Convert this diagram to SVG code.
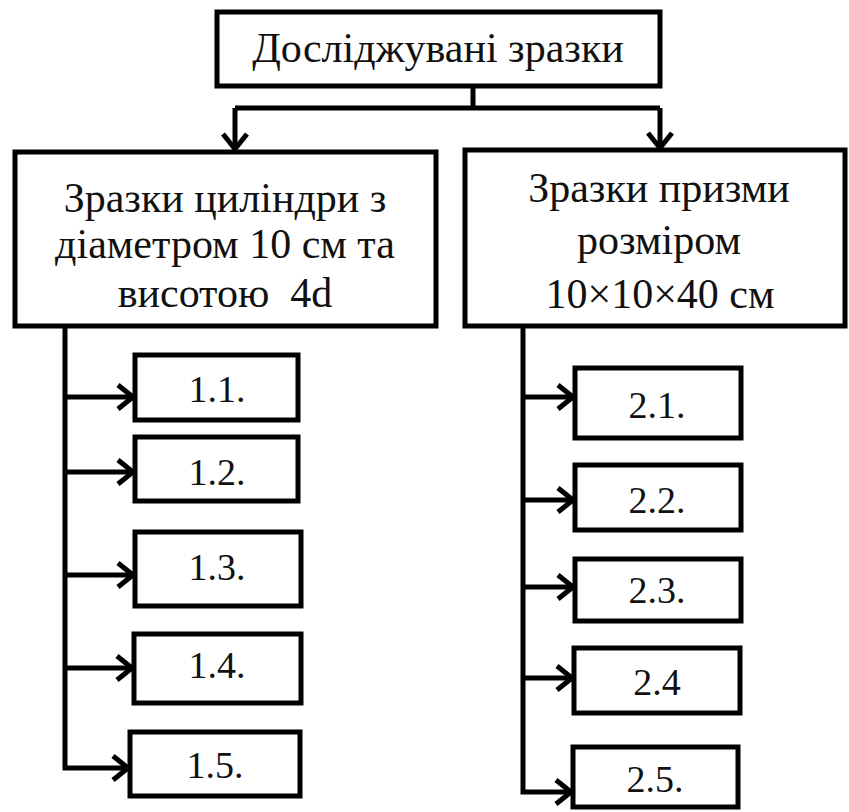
<svg xmlns="http://www.w3.org/2000/svg" width="849" height="812" viewBox="0 0 849 812">
<style>
.box{fill:#fff;stroke:#000;stroke-width:5}
.ln{fill:none;stroke:#000;stroke-width:5}
text{font-family:"Liberation Serif","Times New Roman",serif;fill:#111;text-anchor:middle}
.big{font-size:42px}
.sm{font-size:38px}
</style>
<defs>
<marker id="ah" markerUnits="userSpaceOnUse" viewBox="-20 -15 24 30" refX="0" refY="0" markerWidth="24" markerHeight="30" orient="auto">
<path d="M-15,-12 L0,0 L-15,12" fill="none" stroke="#000" stroke-width="5"/>
</marker>
</defs>
<rect width="849" height="812" fill="#fff"/>
<g id="connectors">
<path class="ln" d="M473,86 V108 M235,108 H660"/>
<path class="ln" d="M235,108 V149" marker-end="url(#ah)"/>
<path class="ln" d="M660,108 V148" marker-end="url(#ah)"/>
<path class="ln" d="M65,326 V768 H128" marker-end="url(#ah)"/>
<path class="ln" d="M65,397 H133" marker-end="url(#ah)"/>
<path class="ln" d="M65,472 H133" marker-end="url(#ah)"/>
<path class="ln" d="M65,575 H133" marker-end="url(#ah)"/>
<path class="ln" d="M65,668 H132" marker-end="url(#ah)"/>
<path class="ln" d="M523,326 V792 H571" marker-end="url(#ah)"/>
<path class="ln" d="M523,397 H573" marker-end="url(#ah)"/>
<path class="ln" d="M523,500 H573" marker-end="url(#ah)"/>
<path class="ln" d="M523,587 H573" marker-end="url(#ah)"/>
<path class="ln" d="M523,678 H572" marker-end="url(#ah)"/>
</g>
<g id="root">
<rect class="box" x="217" y="12" width="443" height="74"/>
<text class="big" x="438" y="62" font-family="Liberation Serif, serif">Досліджувані зразки</text>
</g>
<g id="cyl">
<rect class="box" x="15" y="152" width="421" height="174"/>
<text class="big" x="225" y="212" font-family="Liberation Serif, serif">Зразки циліндри з</text>
<text class="big" x="225" y="258" font-family="Liberation Serif, serif">діаметром 10 см та</text>
<text class="big" x="225" y="307" font-family="Liberation Serif, serif" xml:space="preserve">висотою  4d</text>
</g>
<g id="prism">
<rect class="box" x="465" y="150" width="380" height="176"/>
<text class="big" x="659" y="202" font-family="Liberation Serif, serif">Зразки призми</text>
<text class="big" x="659" y="254" font-family="Liberation Serif, serif">розміром</text>
<text class="big" x="660" y="308" font-family="Liberation Serif, serif">10×10×40 см</text>
</g>
<g id="n11"><rect class="box" x="135" y="355" width="163" height="65"/><text class="sm" x="217" y="402">1.1.</text></g>
<g id="n12"><rect class="box" x="135" y="437" width="163" height="64"/><text class="sm" x="217" y="485">1.2.</text></g>
<g id="n13"><rect class="box" x="135" y="532" width="166" height="74"/><text class="sm" x="217" y="580">1.3.</text></g>
<g id="n14"><rect class="box" x="134" y="634" width="167" height="69"/><text class="sm" x="217" y="678">1.4.</text></g>
<g id="n15"><rect class="box" x="130" y="732" width="170" height="64"/><text class="sm" x="215" y="778">1.5.</text></g>
<g id="n21"><rect class="box" x="575" y="368" width="166" height="70"/><text class="sm" x="657" y="418">2.1.</text></g>
<g id="n22"><rect class="box" x="575" y="465" width="166" height="65"/><text class="sm" x="657" y="513">2.2.</text></g>
<g id="n23"><rect class="box" x="575" y="559" width="166" height="62"/><text class="sm" x="657" y="603">2.3.</text></g>
<g id="n24"><rect class="box" x="574" y="648" width="166" height="65"/><text class="sm" x="657" y="695">2.4</text></g>
<g id="n25"><rect class="box" x="573" y="747" width="165" height="60"/><text class="sm" x="655" y="792">2.5.</text></g>
</svg>
